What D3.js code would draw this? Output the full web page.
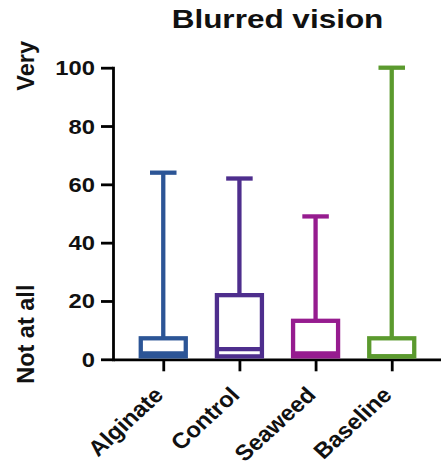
<!DOCTYPE html>
<html>
<head>
<meta charset="utf-8">
<script src="https://cdn.jsdelivr.net/npm/d3@7"></script>
<style>
  body { margin: 0; background: #fff; }
  svg { display: block; }
  text { font-family: "Liberation Sans", Arial, sans-serif; font-weight: bold; fill: #111; }
</style>
</head>
<body>
<div id="chart"></div>
<script>
// Chart data (VAS score, 0 = not at all, 100 = very).
const groups = ["Alginate", "Control", "Seaweed", "Baseline"];
const minValues = [1, 1, 1, 1];
const q1Values = [1, 1, 1, 1];
const medianValues = [2, 3.5, 2, 1];
const q3Values = [7.2, 22, 13.2, 7.2];
const maxValues = [64, 62, 49, 100];
const colors = ["#2c5596", "#4e2e8d", "#961c8f", "#5b9a2e"];
const yTicks = [0, 20, 40, 60, 80, 100];

const width = 441;
const height = 466;

// Plot frame in absolute units.
const frame = { left: 113, right: 442, top: 67.7, bottom: 359.3 };

const boxWidth = 45;
const capWidth = 26.5;
const strokeW = 4.3;

const svg = d3.select("#chart")
  .append("svg")
  .attr("width", width)
  .attr("height", height);

const xScale = d3.scalePoint()
  .domain(groups)
  .range([frame.left, frame.right])
  .padding(0.66);

const yScale = d3.scaleLinear()
  .domain([0, 100])
  .range([frame.bottom, frame.top]);

const stats = groups.map((g, i) => ({
  group: g,
  min: minValues[i],
  q1: q1Values[i],
  median: medianValues[i],
  q3: q3Values[i],
  max: maxValues[i],
  color: colors[i]
}));

// Title
svg.append("text")
  .attr("text-anchor", "middle")
  .attr("font-size", 25)
  .attr("transform", "translate(277.5,28.3) scale(1.26,1)")
  .text("Blurred vision");

// Y axis
const yAxis = svg.append("g")
  .attr("transform", `translate(${frame.left},0)`)
  .call(d3.axisLeft(yScale).tickValues(yTicks).tickSize(12).tickSizeOuter(0));
yAxis.select(".domain").attr("stroke", "#000").attr("stroke-width", 2.8).attr("stroke-linecap", "square");
yAxis.selectAll(".tick line").attr("stroke", "#000").attr("stroke-width", 2.8);
yAxis.selectAll(".tick text")
  .attr("x", 0).attr("dy", null)
  .attr("font-size", 19.5)
  .attr("font-family", null)
  .attr("fill", "#111")
  .attr("text-anchor", "end")
  .attr("transform", "translate(-18,7) scale(1.22,1)");

// X axis
const xAxis = svg.append("g")
  .attr("transform", `translate(0,${frame.bottom})`)
  .call(d3.axisBottom(xScale).tickSize(12).tickSizeOuter(0));
xAxis.select(".domain").attr("stroke", "#000").attr("stroke-width", 2.8);
xAxis.selectAll(".tick line").attr("stroke", "#000").attr("stroke-width", 2.8);
xAxis.selectAll(".tick text")
  .attr("y", 0).attr("dy", null)
  .attr("font-size", 22)
  .attr("font-family", null)
  .attr("fill", "#111")
  .attr("text-anchor", "end")
  .attr("transform", "translate(1,37) scale(1.09,1) rotate(-45)");

// Y axis labels
svg.append("text")
  .attr("text-anchor", "middle")
  .attr("font-size", 23.5)
  .attr("transform", "translate(33.5,65.8) rotate(-90)")
  .text("Very");

svg.append("text")
  .attr("text-anchor", "middle")
  .attr("font-size", 23.5)
  .attr("transform", "translate(33.5,334.2) rotate(-90)")
  .text("Not at all");

// Boxes and whiskers
const boxes = svg.selectAll(".box")
  .data(stats)
  .enter()
  .append("g")
  .attr("class", "box")
  .attr("stroke", (d) => d.color)
  .attr("stroke-width", strokeW)
  .attr("fill", "none");

// Upper whisker
boxes.append("line")
  .attr("x1", (d) => xScale(d.group))
  .attr("x2", (d) => xScale(d.group))
  .attr("y1", (d) => yScale(d.q3))
  .attr("y2", (d) => yScale(d.max));

// Upper cap
boxes.append("line")
  .attr("x1", (d) => xScale(d.group) - capWidth / 2)
  .attr("x2", (d) => xScale(d.group) + capWidth / 2)
  .attr("y1", (d) => yScale(d.max))
  .attr("y2", (d) => yScale(d.max));

// Lower whisker
boxes.append("line")
  .attr("x1", (d) => xScale(d.group))
  .attr("x2", (d) => xScale(d.group))
  .attr("y1", (d) => yScale(d.q1))
  .attr("y2", (d) => yScale(d.min));

// Box
boxes.append("rect")
  .attr("x", (d) => xScale(d.group) - boxWidth / 2)
  .attr("width", boxWidth)
  .attr("y", (d) => yScale(d.q3))
  .attr("height", (d) => yScale(d.q1) - yScale(d.q3))
  .attr("fill", "#fff");

// Median
boxes.append("line")
  .attr("x1", (d) => xScale(d.group) - boxWidth / 2)
  .attr("x2", (d) => xScale(d.group) + boxWidth / 2)
  .attr("y1", (d) => yScale(d.median))
  .attr("y2", (d) => yScale(d.median));
</script>
</body>
</html>
